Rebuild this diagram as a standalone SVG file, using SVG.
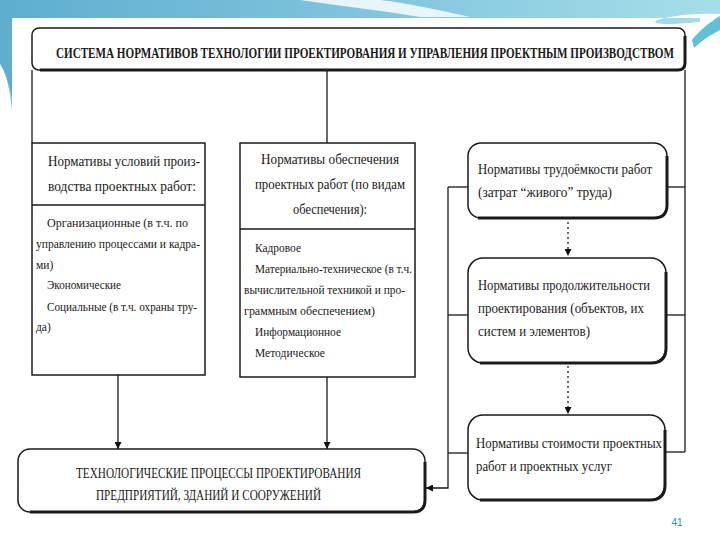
<svg xmlns="http://www.w3.org/2000/svg" width="720" height="540" viewBox="0 0 720 540">
<defs>
<linearGradient id="band" x1="0" y1="0" x2="1" y2="0">
<stop offset="0" stop-color="#5eaed0"/>
<stop offset="0.45" stop-color="#7cc2dc"/>
<stop offset="1" stop-color="#a6dfe9"/>
</linearGradient>
<marker id="ah" viewBox="0 0 10 10" refX="10" refY="5" markerWidth="7" markerHeight="7" orient="auto-start-reverse" markerUnits="userSpaceOnUse">
<path d="M0,0 L10,5 L0,10 z" fill="#111"/>
</marker>
<style>
.t{font-family:"Liberation Serif","DejaVu Serif","Times New Roman",serif;fill:#1a1a1a}
.hd{font-size:14px}
.it{font-size:11.5px}
.ttl{font-size:14px;font-weight:bold}
.box{fill:#fff;stroke:#1a1a1a;stroke-width:1.5}
.shd{fill:none;stroke:#1a1a1a;stroke-width:3}
.ln{fill:none;stroke:#1a1a1a;stroke-width:1.3}
.dot{fill:none;stroke:#1a1a1a;stroke-width:1.3;stroke-dasharray:2 3}
</style>
</defs>
<rect x="0" y="0" width="720" height="540" fill="#ffffff"/>
<g id="decor">
<path d="M0,0 H720 V14 C660,12 620,30 700,22 L700,18 H12 V100 C8,80 4,70 0,64 Z" fill="url(#band)"/>
<path d="M300,0 C340,6 380,10 420,17 L470,17 C430,8 400,2 380,0 Z" fill="#e8f6f9"/>
<path d="M692,40 C700,30 710,22 720,16 V30 C712,34 702,40 694,48 Z" fill="#5fc0d6"/>
<path d="M0,64 C6,72 10,90 12,110 L12,100 C8,80 4,70 0,64 Z" fill="#6fbcd6"/>
<text x="677" y="526" font-family="Liberation Sans, Arial, sans-serif" font-size="10" fill="#2a8fb0" text-anchor="middle">41</text>
</g>
<g id="connectors">
<line class="ln" x1="32" y1="70" x2="32" y2="143"/>
<line class="ln" x1="327" y1="70" x2="327" y2="143"/>
<line class="ln" x1="685" y1="70" x2="685" y2="452"/>
<line class="ln" x1="668" y1="187" x2="685" y2="187"/>
<line class="ln" x1="667" y1="315" x2="685" y2="315"/>
<line class="ln" x1="666" y1="452" x2="685" y2="452"/>
<line class="ln" x1="448" y1="187" x2="468" y2="187"/>
<line class="ln" x1="448" y1="315" x2="468" y2="315"/>
<line class="ln" x1="448" y1="453" x2="468" y2="453"/>
<path class="ln" d="M448,187 V488 H426" marker-end="url(#ah)"/>
<line class="ln" x1="118" y1="375" x2="118" y2="449" marker-end="url(#ah)"/>
<line class="ln" x1="327" y1="377" x2="327" y2="449" marker-end="url(#ah)"/>
<line class="dot" x1="568" y1="222" x2="568" y2="256" marker-end="url(#ah)"/>
<line class="dot" x1="568" y1="366" x2="568" y2="414" marker-end="url(#ah)"/>
</g>
<g id="title">
<rect class="box" x="32" y="28" width="653" height="42" rx="7"/>
<path class="shd" d="M40,70 H678 Q685,70 685,63 V36"/>
<text class="t ttl" x="56" y="58" textLength="618" lengthAdjust="spacingAndGlyphs">СИСТЕМА НОРМАТИВОВ ТЕХНОЛОГИИ ПРОЕКТИРОВАНИЯ И УПРАВЛЕНИЯ ПРОЕКТНЫМ ПРОИЗВОДСТВОМ</text>
</g>
<g id="n1">
<rect class="box" x="32" y="143" width="173" height="232"/>
<line class="ln" x1="32" y1="205" x2="205" y2="205" stroke-width="1.6"/>
<text class="t hd" x="48" y="166" textLength="152" lengthAdjust="spacingAndGlyphs">Нормативы условий произ-</text>
<text class="t hd" x="48" y="191" textLength="148" lengthAdjust="spacingAndGlyphs">водства проектных работ:</text>
<text class="t it" x="47" y="227" textLength="141" lengthAdjust="spacingAndGlyphs">Организационные (в т.ч. по</text>
<text class="t it" x="36" y="248" textLength="164" lengthAdjust="spacingAndGlyphs">управлению процессами и кадра-</text>
<text class="t it" x="36" y="269">ми)</text>
<text class="t it" x="47" y="289" textLength="74" lengthAdjust="spacingAndGlyphs">Экономические</text>
<text class="t it" x="47" y="311" textLength="150" lengthAdjust="spacingAndGlyphs">Социальные (в т.ч. охраны тру-</text>
<text class="t it" x="36" y="331">да)</text>
</g>
<g id="n2">
<rect class="box" x="240" y="143" width="175" height="234"/>
<line class="ln" x1="240" y1="229" x2="415" y2="229" stroke-width="1.6"/>
<text class="t hd" x="330" y="164" text-anchor="middle" textLength="138" lengthAdjust="spacingAndGlyphs">Нормативы обеспечения</text>
<text class="t hd" x="330" y="189" text-anchor="middle" textLength="150" lengthAdjust="spacingAndGlyphs">проектных работ (по видам</text>
<text class="t hd" x="330" y="214" text-anchor="middle" textLength="74" lengthAdjust="spacingAndGlyphs">обеспечения):</text>
<text class="t it" x="255" y="252" textLength="46" lengthAdjust="spacingAndGlyphs">Кадровое</text>
<text class="t it" x="255" y="273" textLength="157" lengthAdjust="spacingAndGlyphs">Материально-техническое (в т.ч.</text>
<text class="t it" x="244" y="294" textLength="161" lengthAdjust="spacingAndGlyphs">вычислительной техникой и про-</text>
<text class="t it" x="244" y="315" textLength="131" lengthAdjust="spacingAndGlyphs">граммным обеспечением)</text>
<text class="t it" x="255" y="336" textLength="86" lengthAdjust="spacingAndGlyphs">Информационное</text>
<text class="t it" x="255" y="357" textLength="70" lengthAdjust="spacingAndGlyphs">Методическое</text>
</g>
<g id="n3">
<rect class="box" x="468" y="143" width="199" height="75" rx="13"/>
<path class="shd" d="M478,218 H654 Q667,218 667,205 V156"/>
<text class="t hd" x="478" y="174" textLength="174" lengthAdjust="spacingAndGlyphs">Нормативы трудоёмкости работ</text>
<text class="t hd" x="478" y="197" textLength="134" lengthAdjust="spacingAndGlyphs">(затрат “живого” труда)</text>
</g>
<g id="n4">
<rect class="box" x="468" y="258" width="198" height="105" rx="15"/>
<path class="shd" d="M480,363 H651 Q666,363 666,348 V272"/>
<text class="t hd" x="478" y="290" textLength="172" lengthAdjust="spacingAndGlyphs">Нормативы продолжительности</text>
<text class="t hd" x="478" y="313" textLength="166" lengthAdjust="spacingAndGlyphs">проектирования (объектов, их</text>
<text class="t hd" x="478" y="336" textLength="112" lengthAdjust="spacingAndGlyphs">систем и элементов)</text>
</g>
<g id="n5">
<rect class="box" x="468" y="415" width="197" height="85" rx="15"/>
<path class="shd" d="M480,500 H650 Q665,500 665,485 V430"/>
<text class="t hd" x="476" y="448" textLength="186" lengthAdjust="spacingAndGlyphs">Нормативы стоимости проектных</text>
<text class="t hd" x="476" y="471" textLength="136" lengthAdjust="spacingAndGlyphs">работ и проектных услуг</text>
</g>
<g id="n6">
<rect class="box" x="18" y="449" width="407" height="63" rx="12"/>
<path class="shd" d="M30,512 H413 Q425,512 425,500 V462"/>
<text class="t hd" x="76" y="478" textLength="285" lengthAdjust="spacingAndGlyphs">ТЕХНОЛОГИЧЕСКИЕ ПРОЦЕССЫ ПРОЕКТИРОВАНИЯ</text>
<text class="t hd" x="96" y="500" textLength="225" lengthAdjust="spacingAndGlyphs">ПРЕДПРИЯТИЙ, ЗДАНИЙ И СООРУЖЕНИЙ</text>
</g>
</svg>
